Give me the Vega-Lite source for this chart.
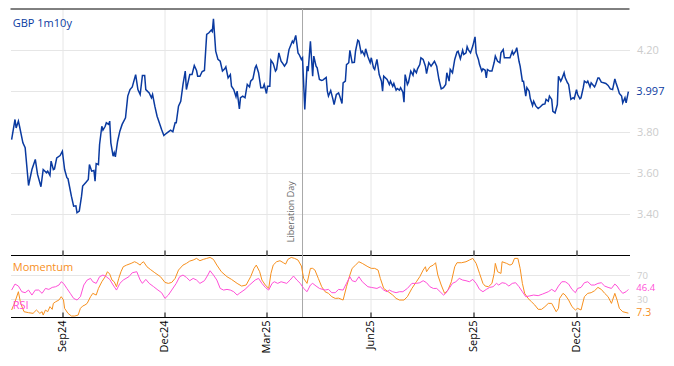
{
  "$schema": "https://vega.github.io/schema/vega-lite/v6.json",
  "padding": {"left": 8.5, "top": 8, "right": 0, "bottom": 0},
  "spacing": 0,
  "bounds": "flush",
  "config": {
    "font": "Open Sans",
    "view": {"stroke": null},
    "axis": {"gridColor": "#e6e6e6", "gridWidth": 1, "labelFontSize": 11, "labelFont": "Open Sans"}
  },
  "data": {"values": [{}]},
  "datasets": {
    "rates": [
      {"date":"2024-07-18","value":3.763},{"date":"2024-07-21","value":3.861},{"date":"2024-07-22","value":3.82},{"date":"2024-07-24","value":3.853},{"date":"2024-07-25","value":3.828},{"date":"2024-07-28","value":3.747},{"date":"2024-07-30","value":3.723},{"date":"2024-08-02","value":3.539},{"date":"2024-08-05","value":3.617},{"date":"2024-08-08","value":3.666},{"date":"2024-08-10","value":3.593},{"date":"2024-08-13","value":3.533},{"date":"2024-08-15","value":3.617},{"date":"2024-08-18","value":3.601},{"date":"2024-08-19","value":3.609},{"date":"2024-08-21","value":3.588},{"date":"2024-08-22","value":3.658},{"date":"2024-08-24","value":3.617},{"date":"2024-08-25","value":3.62},{"date":"2024-08-27","value":3.674},{"date":"2024-08-30","value":3.685},
      {"date":"2024-09-01","value":3.706},{"date":"2024-09-03","value":3.617},{"date":"2024-09-05","value":3.577},{"date":"2024-09-06","value":3.572},{"date":"2024-09-09","value":3.487},{"date":"2024-09-11","value":3.438},{"date":"2024-09-13","value":3.44},{"date":"2024-09-14","value":3.406},{"date":"2024-09-16","value":3.414},{"date":"2024-09-18","value":3.487},{"date":"2024-09-19","value":3.536},{"date":"2024-09-22","value":3.555},{"date":"2024-09-24","value":3.568},{"date":"2024-09-25","value":3.641},{"date":"2024-09-27","value":3.609},{"date":"2024-09-29","value":3.612},{"date":"2024-09-30","value":3.56},
      {"date":"2024-10-01","value":3.646},{"date":"2024-10-03","value":3.641},{"date":"2024-10-04","value":3.739},{"date":"2024-10-06","value":3.828},{"date":"2024-10-07","value":3.809},{"date":"2024-10-09","value":3.828},{"date":"2024-10-10","value":3.845},{"date":"2024-10-12","value":3.837},{"date":"2024-10-13","value":3.853},{"date":"2024-10-14","value":3.747},{"date":"2024-10-16","value":3.682},{"date":"2024-10-17","value":3.699},{"date":"2024-10-18","value":3.679},{"date":"2024-10-20","value":3.755},{"date":"2024-10-22","value":3.804},{"date":"2024-10-24","value":3.837},{"date":"2024-10-27","value":3.869},{"date":"2024-10-29","value":3.975},{"date":"2024-10-31","value":4.007},
      {"date":"2024-11-02","value":4.02},{"date":"2024-11-05","value":4.08},{"date":"2024-11-07","value":4.007},{"date":"2024-11-09","value":3.983},{"date":"2024-11-11","value":4.076},{"date":"2024-11-13","value":4.076},{"date":"2024-11-14","value":4.007},{"date":"2024-11-17","value":3.991},{"date":"2024-11-19","value":3.967},{"date":"2024-11-20","value":3.983},{"date":"2024-11-22","value":3.926},{"date":"2024-11-24","value":3.877},{"date":"2024-11-25","value":3.861},{"date":"2024-11-28","value":3.812},{"date":"2024-11-30","value":3.783},
      {"date":"2024-12-01","value":3.788},{"date":"2024-12-04","value":3.801},{"date":"2024-12-06","value":3.809},{"date":"2024-12-08","value":3.801},{"date":"2024-12-10","value":3.845},{"date":"2024-12-11","value":3.845},{"date":"2024-12-13","value":3.926},{"date":"2024-12-15","value":3.95},{"date":"2024-12-17","value":4.032},{"date":"2024-12-19","value":4.097},{"date":"2024-12-20","value":4.007},{"date":"2024-12-23","value":4.08},{"date":"2024-12-25","value":4.08},{"date":"2024-12-27","value":4.124},{"date":"2024-12-29","value":4.1},{"date":"2024-12-30","value":4.072},
      {"date":"2025-01-01","value":4.072},{"date":"2025-01-03","value":4.095},{"date":"2025-01-05","value":4.1},{"date":"2025-01-07","value":4.276},{"date":"2025-01-09","value":4.284},{"date":"2025-01-11","value":4.297},{"date":"2025-01-12","value":4.29},{"date":"2025-01-13","value":4.352},{"date":"2025-01-15","value":4.194},{"date":"2025-01-17","value":4.154},{"date":"2025-01-19","value":4.145},{"date":"2025-01-21","value":4.097},{"date":"2025-01-23","value":4.108},{"date":"2025-01-24","value":4.118},{"date":"2025-01-26","value":4.064},{"date":"2025-01-28","value":4.08},{"date":"2025-01-29","value":4.023},{"date":"2025-01-31","value":4.007},
      {"date":"2025-02-02","value":3.972},{"date":"2025-02-03","value":3.999},{"date":"2025-02-05","value":3.913},{"date":"2025-02-06","value":3.967},{"date":"2025-02-08","value":3.975},{"date":"2025-02-10","value":3.967},{"date":"2025-02-12","value":4.032},{"date":"2025-02-14","value":4.02},{"date":"2025-02-15","value":4.048},{"date":"2025-02-17","value":4.059},{"date":"2025-02-19","value":4.113},{"date":"2025-02-20","value":4.124},{"date":"2025-02-22","value":4.089},{"date":"2025-02-24","value":4.016},{"date":"2025-02-26","value":4.016},{"date":"2025-02-27","value":4.032},
      {"date":"2025-03-01","value":3.988},{"date":"2025-03-02","value":4.023},{"date":"2025-03-04","value":4.023},{"date":"2025-03-05","value":4.15},{"date":"2025-03-07","value":4.134},{"date":"2025-03-09","value":4.097},{"date":"2025-03-10","value":4.105},{"date":"2025-03-12","value":4.186},{"date":"2025-03-14","value":4.145},{"date":"2025-03-15","value":4.138},{"date":"2025-03-17","value":4.121},{"date":"2025-03-19","value":4.138},{"date":"2025-03-21","value":4.202},{"date":"2025-03-24","value":4.243},{"date":"2025-03-25","value":4.235},{"date":"2025-03-27","value":4.271},{"date":"2025-03-29","value":4.186},{"date":"2025-03-30","value":4.178},
      {"date":"2025-04-01","value":4.154},{"date":"2025-04-02","value":4.162},{"date":"2025-04-04","value":3.91},{"date":"2025-04-06","value":4.121},{"date":"2025-04-07","value":4.097},{"date":"2025-04-09","value":4.243},{"date":"2025-04-11","value":4.072},{"date":"2025-04-12","value":4.17},{"date":"2025-04-14","value":4.121},{"date":"2025-04-15","value":4.113},{"date":"2025-04-17","value":4.056},{"date":"2025-04-19","value":4.051},{"date":"2025-04-20","value":4.053},{"date":"2025-04-23","value":4.066},{"date":"2025-04-24","value":3.999},{"date":"2025-04-25","value":3.975},{"date":"2025-04-27","value":4.002},{"date":"2025-04-29","value":3.959},{"date":"2025-04-30","value":3.934},
      {"date":"2025-05-02","value":3.983},{"date":"2025-05-04","value":3.991},{"date":"2025-05-05","value":3.975},{"date":"2025-05-07","value":3.939},{"date":"2025-05-08","value":4.04},{"date":"2025-05-10","value":4.048},{"date":"2025-05-11","value":4.129},{"date":"2025-05-13","value":4.138},{"date":"2025-05-14","value":4.198},{"date":"2025-05-16","value":4.138},{"date":"2025-05-18","value":4.14},{"date":"2025-05-19","value":4.194},{"date":"2025-05-21","value":4.248},{"date":"2025-05-22","value":4.243},{"date":"2025-05-24","value":4.186},{"date":"2025-05-25","value":4.194},{"date":"2025-05-27","value":4.173},{"date":"2025-05-28","value":4.206},{"date":"2025-05-30","value":4.167},
      {"date":"2025-06-01","value":4.138},{"date":"2025-06-02","value":4.162},{"date":"2025-06-04","value":4.113},{"date":"2025-06-05","value":4.105},{"date":"2025-06-07","value":4.154},{"date":"2025-06-09","value":4.08},{"date":"2025-06-11","value":4.048},{"date":"2025-06-12","value":3.999},{"date":"2025-06-13","value":4.072},{"date":"2025-06-16","value":4.056},{"date":"2025-06-18","value":4.032},{"date":"2025-06-19","value":4.048},{"date":"2025-06-21","value":4.023},{"date":"2025-06-22","value":4.037},{"date":"2025-06-24","value":4.004},{"date":"2025-06-25","value":4.012},{"date":"2025-06-27","value":4.004},{"date":"2025-06-28","value":4.016},{"date":"2025-06-30","value":3.994},
      {"date":"2025-07-01","value":3.945},{"date":"2025-07-02","value":4.08},{"date":"2025-07-04","value":4.032},{"date":"2025-07-05","value":4.043},{"date":"2025-07-07","value":4.097},{"date":"2025-07-09","value":4.077},{"date":"2025-07-10","value":4.105},{"date":"2025-07-12","value":4.089},{"date":"2025-07-13","value":4.108},{"date":"2025-07-15","value":4.129},{"date":"2025-07-16","value":4.162},{"date":"2025-07-18","value":4.154},{"date":"2025-07-20","value":4.121},{"date":"2025-07-21","value":4.085},{"date":"2025-07-23","value":4.138},{"date":"2025-07-25","value":4.121},{"date":"2025-07-28","value":4.145},{"date":"2025-07-30","value":4.121},
      {"date":"2025-08-01","value":4.056},{"date":"2025-08-03","value":4.01},{"date":"2025-08-05","value":4.016},{"date":"2025-08-07","value":4.032},{"date":"2025-08-08","value":4.089},{"date":"2025-08-10","value":4.048},{"date":"2025-08-11","value":4.105},{"date":"2025-08-13","value":4.089},{"date":"2025-08-15","value":4.154},{"date":"2025-08-17","value":4.19},{"date":"2025-08-18","value":4.194},{"date":"2025-08-20","value":4.157},{"date":"2025-08-22","value":4.199},{"date":"2025-08-23","value":4.178},{"date":"2025-08-25","value":4.186},{"date":"2025-08-26","value":4.216},{"date":"2025-08-27","value":4.202},{"date":"2025-08-29","value":4.186},{"date":"2025-08-31","value":4.219},
      {"date":"2025-09-02","value":4.264},{"date":"2025-09-03","value":4.186},{"date":"2025-09-05","value":4.154},{"date":"2025-09-06","value":4.129},{"date":"2025-09-08","value":4.097},{"date":"2025-09-09","value":4.108},{"date":"2025-09-11","value":4.101},{"date":"2025-09-12","value":4.064},{"date":"2025-09-13","value":4.105},{"date":"2025-09-15","value":4.097},{"date":"2025-09-17","value":4.097},{"date":"2025-09-19","value":4.14},{"date":"2025-09-20","value":4.17},{"date":"2025-09-22","value":4.145},{"date":"2025-09-24","value":4.138},{"date":"2025-09-25","value":4.186},{"date":"2025-09-27","value":4.202},{"date":"2025-09-28","value":4.162},{"date":"2025-09-30","value":4.162},
      {"date":"2025-10-03","value":4.162},{"date":"2025-10-05","value":4.194},{"date":"2025-10-06","value":4.178},{"date":"2025-10-08","value":4.194},{"date":"2025-10-09","value":4.211},{"date":"2025-10-11","value":4.145},{"date":"2025-10-12","value":4.121},{"date":"2025-10-14","value":4.048},{"date":"2025-10-15","value":4.048},{"date":"2025-10-17","value":3.975},{"date":"2025-10-18","value":4.016},{"date":"2025-10-20","value":3.999},{"date":"2025-10-21","value":3.963},{"date":"2025-10-23","value":3.929},{"date":"2025-10-24","value":3.95},{"date":"2025-10-26","value":3.926},{"date":"2025-10-28","value":3.915},{"date":"2025-10-30","value":3.923},
      {"date":"2025-11-01","value":3.934},{"date":"2025-11-03","value":3.937},{"date":"2025-11-04","value":3.959},{"date":"2025-11-06","value":3.95},{"date":"2025-11-07","value":3.975},{"date":"2025-11-09","value":3.959},{"date":"2025-11-10","value":3.901},{"date":"2025-11-12","value":3.893},{"date":"2025-11-14","value":3.934},{"date":"2025-11-15","value":4.072},{"date":"2025-11-17","value":4.048},{"date":"2025-11-18","value":4.059},{"date":"2025-11-20","value":4.089},{"date":"2025-11-21","value":4.064},{"date":"2025-11-23","value":4.04},{"date":"2025-11-24","value":4.032},{"date":"2025-11-26","value":3.959},{"date":"2025-11-28","value":3.967},{"date":"2025-11-29","value":3.962},
      {"date":"2025-12-01","value":4.007},{"date":"2025-12-02","value":3.983},{"date":"2025-12-04","value":3.962},{"date":"2025-12-05","value":3.967},{"date":"2025-12-07","value":4.016},{"date":"2025-12-08","value":4.048},{"date":"2025-12-10","value":4.04},{"date":"2025-12-11","value":4.048},{"date":"2025-12-13","value":4.02},{"date":"2025-12-14","value":4.04},{"date":"2025-12-16","value":4.027},{"date":"2025-12-17","value":4.02},{"date":"2025-12-18","value":4.032},{"date":"2025-12-20","value":4.064},{"date":"2025-12-21","value":4.064},{"date":"2025-12-23","value":4.043},{"date":"2025-12-25","value":4.04},{"date":"2025-12-27","value":4.037},{"date":"2025-12-29","value":4.027},{"date":"2025-12-31","value":4.01},
      {"date":"2026-01-02","value":4.007},{"date":"2026-01-04","value":4.059},{"date":"2026-01-05","value":4.04},{"date":"2026-01-07","value":4.007},{"date":"2026-01-08","value":3.988},{"date":"2026-01-10","value":3.975},{"date":"2026-01-11","value":3.942},{"date":"2026-01-13","value":3.967},{"date":"2026-01-14","value":3.942},{"date":"2026-01-16","value":3.997}
    ],
    "momentum": [
      {"date":"2024-07-18","value":12.5},{"date":"2024-07-21","value":26},{"date":"2024-07-24","value":42.6},{"date":"2024-07-26","value":23.4},{"date":"2024-07-29","value":9.7},{"date":"2024-08-02","value":8.1},{"date":"2024-08-06","value":7},{"date":"2024-08-09","value":12.5},{"date":"2024-08-12","value":7},{"date":"2024-08-14","value":9.7},{"date":"2024-08-15","value":4.2},{"date":"2024-08-17","value":12.5},{"date":"2024-08-19","value":9.7},{"date":"2024-08-21","value":18},{"date":"2024-08-23","value":13.6},{"date":"2024-08-24","value":23.4},{"date":"2024-08-26","value":26},{"date":"2024-08-29","value":29},{"date":"2024-08-31","value":34.4},
      {"date":"2024-09-02","value":29},{"date":"2024-09-03","value":15.2},{"date":"2024-09-06","value":7},{"date":"2024-09-09","value":2.6},{"date":"2024-09-12","value":2.6},{"date":"2024-09-15","value":4.2},{"date":"2024-09-17","value":15.2},{"date":"2024-09-19","value":19},{"date":"2024-09-21","value":20.7},{"date":"2024-09-23","value":23.4},{"date":"2024-09-26","value":34.4},{"date":"2024-09-28","value":39.9},
      {"date":"2024-10-01","value":37.1},{"date":"2024-10-03","value":48},{"date":"2024-10-06","value":59},{"date":"2024-10-09","value":67.3},{"date":"2024-10-11","value":75.5},{"date":"2024-10-13","value":71.6},{"date":"2024-10-15","value":61.8},{"date":"2024-10-17","value":59},{"date":"2024-10-19","value":50.8},{"date":"2024-10-21","value":64.5},{"date":"2024-10-23","value":75.5},{"date":"2024-10-25","value":83.7},{"date":"2024-10-28","value":86.4},
      {"date":"2024-11-01","value":89.2},{"date":"2024-11-04","value":91.9},{"date":"2024-11-06","value":90.3},{"date":"2024-11-09","value":86.4},{"date":"2024-11-10","value":89.2},{"date":"2024-11-12","value":91.9},{"date":"2024-11-15","value":83.7},{"date":"2024-11-18","value":79.3},{"date":"2024-11-22","value":73.8},{"date":"2024-11-27","value":67.3},
      {"date":"2024-12-01","value":57.9},{"date":"2024-12-04","value":56.3},{"date":"2024-12-07","value":57.9},{"date":"2024-12-10","value":64.5},{"date":"2024-12-13","value":78.2},{"date":"2024-12-17","value":86.4},{"date":"2024-12-20","value":89.2},{"date":"2024-12-23","value":93},{"date":"2024-12-26","value":94.7},{"date":"2024-12-29","value":97.4},
      {"date":"2025-01-01","value":93.6},{"date":"2025-01-04","value":95.8},{"date":"2025-01-07","value":97.4},{"date":"2025-01-10","value":99},{"date":"2025-01-13","value":95.8},{"date":"2025-01-16","value":86.4},{"date":"2025-01-20","value":75.5},{"date":"2025-01-25","value":67.3},{"date":"2025-01-29","value":62.9},
      {"date":"2025-02-03","value":56.3},{"date":"2025-02-07","value":51.9},{"date":"2025-02-11","value":53.6},{"date":"2025-02-15","value":67.3},{"date":"2025-02-18","value":81},{"date":"2025-02-20","value":86.4},{"date":"2025-02-23","value":75.5},{"date":"2025-02-25","value":61.8},{"date":"2025-02-28","value":53.6},
      {"date":"2025-03-03","value":48},{"date":"2025-03-05","value":72.7},{"date":"2025-03-07","value":86.4},{"date":"2025-03-10","value":91.9},{"date":"2025-03-13","value":93.6},{"date":"2025-03-16","value":90.3},{"date":"2025-03-18","value":88.1},{"date":"2025-03-20","value":95.8},{"date":"2025-03-23","value":99},{"date":"2025-03-26","value":97.4},{"date":"2025-03-29","value":94.7},
      {"date":"2025-04-01","value":84.8},{"date":"2025-04-03","value":64.5},{"date":"2025-04-06","value":56.3},{"date":"2025-04-09","value":81},{"date":"2025-04-11","value":81},{"date":"2025-04-13","value":78.2},{"date":"2025-04-16","value":64.5},{"date":"2025-04-19","value":50.8},{"date":"2025-04-22","value":42.6},{"date":"2025-04-25","value":39.9},{"date":"2025-04-28","value":34.4},
      {"date":"2025-05-01","value":31.6},{"date":"2025-05-04","value":32},{"date":"2025-05-08","value":28.9},{"date":"2025-05-11","value":50.8},{"date":"2025-05-14","value":70},{"date":"2025-05-16","value":81},{"date":"2025-05-19","value":86.4},{"date":"2025-05-22","value":91.9},{"date":"2025-05-25","value":89.2},{"date":"2025-05-30","value":83.7},
      {"date":"2025-06-02","value":81},{"date":"2025-06-05","value":81},{"date":"2025-06-08","value":78.2},{"date":"2025-06-10","value":64.5},{"date":"2025-06-13","value":48},{"date":"2025-06-17","value":42.6},{"date":"2025-06-21","value":37.1},{"date":"2025-06-24","value":31.6},{"date":"2025-06-27","value":28.9},
      {"date":"2025-07-01","value":28.9},{"date":"2025-07-04","value":34.4},{"date":"2025-07-08","value":48},{"date":"2025-07-12","value":59},{"date":"2025-07-15","value":67.3},{"date":"2025-07-18","value":78.2},{"date":"2025-07-20","value":83.7},{"date":"2025-07-21","value":75.5},{"date":"2025-07-24","value":83.7},{"date":"2025-07-27","value":86.4},{"date":"2025-07-29","value":90.3},{"date":"2025-07-31","value":70},
      {"date":"2025-08-03","value":53.6},{"date":"2025-08-06","value":39.9},{"date":"2025-08-09","value":45.3},{"date":"2025-08-12","value":59},{"date":"2025-08-15","value":83.7},{"date":"2025-08-17","value":90.3},{"date":"2025-08-21","value":90.3},{"date":"2025-08-25","value":91.9},{"date":"2025-08-28","value":94.7},{"date":"2025-08-31","value":97.4},
      {"date":"2025-09-03","value":89.2},{"date":"2025-09-06","value":72.7},{"date":"2025-09-09","value":56.3},{"date":"2025-09-11","value":51.9},{"date":"2025-09-14","value":50.8},{"date":"2025-09-17","value":56.3},{"date":"2025-09-19","value":72.7},{"date":"2025-09-20","value":89.2},{"date":"2025-09-22","value":75.5},{"date":"2025-09-25","value":72.7},{"date":"2025-09-26","value":91.9},{"date":"2025-09-30","value":89.2},
      {"date":"2025-10-03","value":86.4},{"date":"2025-10-05","value":88.1},{"date":"2025-10-07","value":97.4},{"date":"2025-10-10","value":97.4},{"date":"2025-10-12","value":81},{"date":"2025-10-14","value":56.3},{"date":"2025-10-16","value":39.9},{"date":"2025-10-19","value":31.6},{"date":"2025-10-22","value":26.2},{"date":"2025-10-25","value":20.7},{"date":"2025-10-28","value":13.6},{"date":"2025-10-31","value":13.6},
      {"date":"2025-11-03","value":18},{"date":"2025-11-06","value":23.4},{"date":"2025-11-09","value":23.4},{"date":"2025-11-13","value":9.7},{"date":"2025-11-15","value":15.2},{"date":"2025-11-16","value":31.6},{"date":"2025-11-19","value":39.9},{"date":"2025-11-21","value":37.1},{"date":"2025-11-24","value":28.9},{"date":"2025-11-27","value":18},{"date":"2025-11-30","value":12.5},
      {"date":"2025-12-02","value":15.2},{"date":"2025-12-05","value":12.5},{"date":"2025-12-08","value":34.4},{"date":"2025-12-11","value":39.9},{"date":"2025-12-14","value":41},{"date":"2025-12-17","value":44.2},{"date":"2025-12-20","value":49.7},{"date":"2025-12-23","value":46.4},{"date":"2025-12-26","value":39.9},{"date":"2025-12-29","value":34.4},
      {"date":"2026-01-01","value":23.4},{"date":"2026-01-04","value":39.9},{"date":"2026-01-06","value":28.9},{"date":"2026-01-08","value":15.2},{"date":"2026-01-11","value":9.7},{"date":"2026-01-16","value":7.3}
    ],
    "rsi": [
      {"date":"2024-07-18","value":45.3},{"date":"2024-07-21","value":55.2},{"date":"2024-07-24","value":51.9},{"date":"2024-07-27","value":42.6},{"date":"2024-07-30","value":41},{"date":"2024-08-02","value":45.3},{"date":"2024-08-05","value":37.1},{"date":"2024-08-08","value":45.3},{"date":"2024-08-11","value":45.3},{"date":"2024-08-14","value":39.9},{"date":"2024-08-17","value":48},{"date":"2024-08-20","value":46.4},{"date":"2024-08-23","value":49.7},{"date":"2024-08-26","value":50.8},{"date":"2024-08-29","value":53.6},{"date":"2024-08-31","value":59},
      {"date":"2024-09-02","value":56.3},{"date":"2024-09-05","value":48},{"date":"2024-09-08","value":39.9},{"date":"2024-09-11","value":31.6},{"date":"2024-09-14","value":28.9},{"date":"2024-09-17","value":34.4},{"date":"2024-09-20","value":53.6},{"date":"2024-09-23","value":61.8},{"date":"2024-09-26","value":64.5},{"date":"2024-09-28","value":59},
      {"date":"2024-10-01","value":56.3},{"date":"2024-10-04","value":67.3},{"date":"2024-10-07","value":70},{"date":"2024-10-10","value":67.3},{"date":"2024-10-13","value":62.9},{"date":"2024-10-16","value":53.6},{"date":"2024-10-19","value":45.3},{"date":"2024-10-22","value":56.3},{"date":"2024-10-25","value":61.8},{"date":"2024-10-30","value":67.3},
      {"date":"2024-11-02","value":73.8},{"date":"2024-11-06","value":75.5},{"date":"2024-11-09","value":61.8},{"date":"2024-11-11","value":56.3},{"date":"2024-11-14","value":62.9},{"date":"2024-11-17","value":56.3},{"date":"2024-11-21","value":50.8},{"date":"2024-11-24","value":46.4},{"date":"2024-11-28","value":41},
      {"date":"2024-12-01","value":31.6},{"date":"2024-12-04","value":37.1},{"date":"2024-12-07","value":45.3},{"date":"2024-12-11","value":56.3},{"date":"2024-12-14","value":67.3},{"date":"2024-12-17","value":70},{"date":"2024-12-20","value":66.2},{"date":"2024-12-23","value":60.7},{"date":"2024-12-26","value":64.5},{"date":"2024-12-29","value":61.8},
      {"date":"2025-01-01","value":56.3},{"date":"2025-01-05","value":60.7},{"date":"2025-01-08","value":70},{"date":"2025-01-10","value":77.1},{"date":"2025-01-13","value":70},{"date":"2025-01-16","value":61.8},{"date":"2025-01-19","value":48},{"date":"2025-01-22","value":45.3},{"date":"2025-01-25","value":46.4},{"date":"2025-01-28","value":45.3},{"date":"2025-01-31","value":42.6},
      {"date":"2025-02-03","value":37.1},{"date":"2025-02-05","value":39.9},{"date":"2025-02-10","value":46.4},{"date":"2025-02-14","value":53.6},{"date":"2025-02-19","value":61.8},{"date":"2025-02-22","value":64.5},{"date":"2025-02-25","value":56.3},{"date":"2025-02-28","value":49.7},
      {"date":"2025-03-03","value":45.3},{"date":"2025-03-06","value":56.3},{"date":"2025-03-08","value":59},{"date":"2025-03-11","value":56.3},{"date":"2025-03-14","value":59},{"date":"2025-03-19","value":56.3},{"date":"2025-03-22","value":61.8},{"date":"2025-03-25","value":68.4},{"date":"2025-03-28","value":61.8},{"date":"2025-03-31","value":56.3},
      {"date":"2025-04-03","value":48},{"date":"2025-04-06","value":42.6},{"date":"2025-04-09","value":53.6},{"date":"2025-04-11","value":56.3},{"date":"2025-04-14","value":51.9},{"date":"2025-04-17","value":48},{"date":"2025-04-22","value":45.3},{"date":"2025-04-25","value":46.4},{"date":"2025-04-28","value":41},
      {"date":"2025-05-01","value":41},{"date":"2025-05-04","value":46.4},{"date":"2025-05-08","value":45.3},{"date":"2025-05-11","value":56.3},{"date":"2025-05-14","value":67.3},{"date":"2025-05-16","value":60.7},{"date":"2025-05-19","value":59},{"date":"2025-05-22","value":67.3},{"date":"2025-05-25","value":59},{"date":"2025-05-30","value":50.8},
      {"date":"2025-06-02","value":49.7},{"date":"2025-06-07","value":48},{"date":"2025-06-10","value":50.8},{"date":"2025-06-13","value":45.3},{"date":"2025-06-16","value":42.6},{"date":"2025-06-18","value":45.3},{"date":"2025-06-21","value":42.6},{"date":"2025-06-24","value":41},{"date":"2025-06-27","value":42.6},{"date":"2025-06-30","value":42.6},
      {"date":"2025-07-04","value":48},{"date":"2025-07-08","value":56.3},{"date":"2025-07-12","value":56.3},{"date":"2025-07-15","value":57.4},{"date":"2025-07-18","value":60.7},{"date":"2025-07-21","value":57.4},{"date":"2025-07-24","value":50.8},{"date":"2025-07-27","value":48},{"date":"2025-07-30","value":48},
      {"date":"2025-08-02","value":42.6},{"date":"2025-08-05","value":37.1},{"date":"2025-08-07","value":39.9},{"date":"2025-08-10","value":48},{"date":"2025-08-13","value":56.3},{"date":"2025-08-16","value":59},{"date":"2025-08-19","value":64.5},{"date":"2025-08-22","value":61.8},{"date":"2025-08-25","value":60.7},{"date":"2025-08-28","value":59},{"date":"2025-08-31","value":62.9},
      {"date":"2025-09-03","value":56.3},{"date":"2025-09-06","value":46.4},{"date":"2025-09-09","value":42.6},{"date":"2025-09-12","value":46.4},{"date":"2025-09-15","value":49.7},{"date":"2025-09-18","value":50.8},{"date":"2025-09-21","value":56.3},{"date":"2025-09-23","value":53.6},{"date":"2025-09-26","value":57.4},{"date":"2025-09-29","value":56.3},
      {"date":"2025-10-02","value":51.9},{"date":"2025-10-05","value":56.3},{"date":"2025-10-08","value":57.4},{"date":"2025-10-11","value":50.8},{"date":"2025-10-14","value":42.6},{"date":"2025-10-17","value":34.4},{"date":"2025-10-20","value":35.5},{"date":"2025-10-24","value":37.1},{"date":"2025-10-28","value":36.1},
      {"date":"2025-11-01","value":38.8},{"date":"2025-11-06","value":42.6},{"date":"2025-11-09","value":46.4},{"date":"2025-11-12","value":42.6},{"date":"2025-11-15","value":51.9},{"date":"2025-11-18","value":59},{"date":"2025-11-21","value":59},{"date":"2025-11-24","value":55.2},{"date":"2025-11-27","value":46.4},{"date":"2025-11-30","value":41},
      {"date":"2025-12-02","value":48},{"date":"2025-12-05","value":49.7},{"date":"2025-12-08","value":57.4},{"date":"2025-12-11","value":59},{"date":"2025-12-14","value":53.6},{"date":"2025-12-17","value":53.6},{"date":"2025-12-20","value":56.3},{"date":"2025-12-23","value":57.4},{"date":"2025-12-26","value":51.9},{"date":"2025-12-29","value":49.7},
      {"date":"2026-01-01","value":48},{"date":"2026-01-04","value":55.2},{"date":"2026-01-06","value":51.9},{"date":"2026-01-08","value":46.4},{"date":"2026-01-11","value":39.9},{"date":"2026-01-14","value":42.6},{"date":"2026-01-16","value":46.4}
    ]
  },
  "vconcat": [
    {
      "width": 619,
      "height": 246,
      "layer": [
        {
          "mark": {"type": "rule", "color": "#000000", "strokeWidth": 1},
          "encoding": {"y": {"datum": 4.4, "type": "quantitative"}}
        },
        {
          "mark": {"type": "rule", "color": "#a8a8a8", "strokeWidth": 1},
          "encoding": {"x": {"datum": {"year": 2025, "month": 4, "date": 2}, "type": "temporal"}}
        },
        {
          "data": {"name": "rates"},
          "mark": {"type": "line", "color": "#0a3aa0", "strokeWidth": 1.5},
          "encoding": {
            "x": {
              "field": "date", "type": "temporal", "title": null,
              "scale": {"domain": [{"year": 2024, "month": 7, "date": 17}, {"year": 2026, "month": 1, "date": 17}]},
              "axis": {
                "values": [{"year": 2024, "month": 9, "date": 1}, {"year": 2024, "month": 12, "date": 1}, {"year": 2025, "month": 3, "date": 1}, {"year": 2025, "month": 6, "date": 1}, {"year": 2025, "month": 9, "date": 1}, {"year": 2025, "month": 12, "date": 1}],
                "labels": false, "grid": true, "domainColor": "#000000", "tickColor": "#000000", "tickSize": -5, "title": null
              }
            },
            "y": {
              "field": "value", "type": "quantitative", "title": null,
              "scale": {"domain": [3.2, 4.4], "zero": false, "nice": false},
              "axis": {
                "orient": "right", "values": [3.4, 3.6, 3.8, 4.0, 4.2], "format": ".2f",
                "labelExpr": "datum.value == 4 ? '' : datum.label",
                "domain": false, "ticks": false, "labelPadding": 7, "labelColor": "#cccccc", "grid": true, "title": null
              }
            }
          }
        },
        {
          "mark": {"type": "text", "align": "left", "baseline": "middle", "fontSize": 11, "color": "#0a3aa0"},
          "encoding": {
            "x": {"datum": {"year": 2024, "month": 7, "date": 19}, "type": "temporal"},
            "y": {"datum": 4.325, "type": "quantitative"},
            "text": {"value": "GBP 1m10y"}
          }
        },
        {
          "mark": {"type": "text", "align": "left", "baseline": "middle", "fontSize": 11, "color": "#0a3aa0", "dx": 8},
          "encoding": {
            "x": {"datum": {"year": 2026, "month": 1, "date": 16}, "type": "temporal"},
            "y": {"datum": 3.997, "type": "quantitative"},
            "text": {"value": "3.997"}
          }
        },
        {
          "mark": {"type": "text", "align": "left", "baseline": "bottom", "angle": 270, "fontSize": 9, "color": "#666666"},
          "encoding": {
            "x": {"datum": {"year": 2025, "month": 3, "date": 27}, "type": "temporal"},
            "y": {"datum": 3.262, "type": "quantitative"},
            "text": {"value": "Liberation Day"}
          }
        }
      ]
    },
    {
      "width": 619,
      "height": 62,
      "layer": [
        {
          "mark": {"type": "rule", "color": "#a8a8a8", "strokeWidth": 1},
          "encoding": {"x": {"datum": {"year": 2025, "month": 4, "date": 2}, "type": "temporal"}}
        },
        {
          "data": {"name": "momentum"},
          "mark": {"type": "line", "color": "#f7901e", "strokeWidth": 1},
          "encoding": {
            "x": {
              "field": "date", "type": "temporal", "title": null,
              "scale": {"domain": [{"year": 2024, "month": 7, "date": 17}, {"year": 2026, "month": 1, "date": 17}]},
              "axis": {
                "values": [{"year": 2024, "month": 9, "date": 1}, {"year": 2024, "month": 12, "date": 1}, {"year": 2025, "month": 3, "date": 1}, {"year": 2025, "month": 6, "date": 1}, {"year": 2025, "month": 9, "date": 1}, {"year": 2025, "month": 12, "date": 1}],
                "format": "%b%y", "labelAngle": -90, "labelColor": "#000000", "labelPadding": 8,
                "grid": true, "domainColor": "#000000", "tickColor": "#000000", "tickSize": -5, "title": null
              }
            },
            "y": {
              "field": "value", "type": "quantitative", "title": null,
              "scale": {"domain": [1, 103], "zero": false, "nice": false},
              "axis": {
                "orient": "right", "values": [30, 70], "domain": false, "ticks": false,
                "labelPadding": 7, "labelColor": "#cccccc", "labelFontSize": 9.5, "grid": true, "title": null
              }
            }
          }
        },
        {
          "data": {"name": "rsi"},
          "mark": {"type": "line", "color": "#ff4fd8", "strokeWidth": 1},
          "encoding": {
            "x": {"field": "date", "type": "temporal", "title": null},
            "y": {"field": "value", "type": "quantitative", "title": null}
          }
        },
        {
          "mark": {"type": "text", "align": "left", "baseline": "middle", "fontSize": 11, "color": "#f7901e"},
          "encoding": {
            "x": {"datum": {"year": 2024, "month": 7, "date": 19}, "type": "temporal"},
            "y": {"datum": 82.3, "type": "quantitative"},
            "text": {"value": "Momentum"}
          }
        },
        {
          "mark": {"type": "text", "align": "left", "baseline": "middle", "fontSize": 11, "color": "#ff4fd8"},
          "encoding": {
            "x": {"datum": {"year": 2024, "month": 7, "date": 19}, "type": "temporal"},
            "y": {"datum": 19.4, "type": "quantitative"},
            "text": {"value": "RSI"}
          }
        },
        {
          "mark": {"type": "text", "align": "left", "baseline": "middle", "fontSize": 9.5, "color": "#ff4fd8", "dx": 8},
          "encoding": {
            "x": {"datum": {"year": 2026, "month": 1, "date": 16}, "type": "temporal"},
            "y": {"datum": 48.6, "type": "quantitative"},
            "text": {"value": "46.4"}
          }
        },
        {
          "mark": {"type": "text", "align": "left", "baseline": "middle", "fontSize": 10.5, "color": "#f7901e", "dx": 8},
          "encoding": {
            "x": {"datum": {"year": 2026, "month": 1, "date": 16}, "type": "temporal"},
            "y": {"datum": 7.3, "type": "quantitative"},
            "text": {"value": "7.3"}
          }
        }
      ]
    }
  ]
}
